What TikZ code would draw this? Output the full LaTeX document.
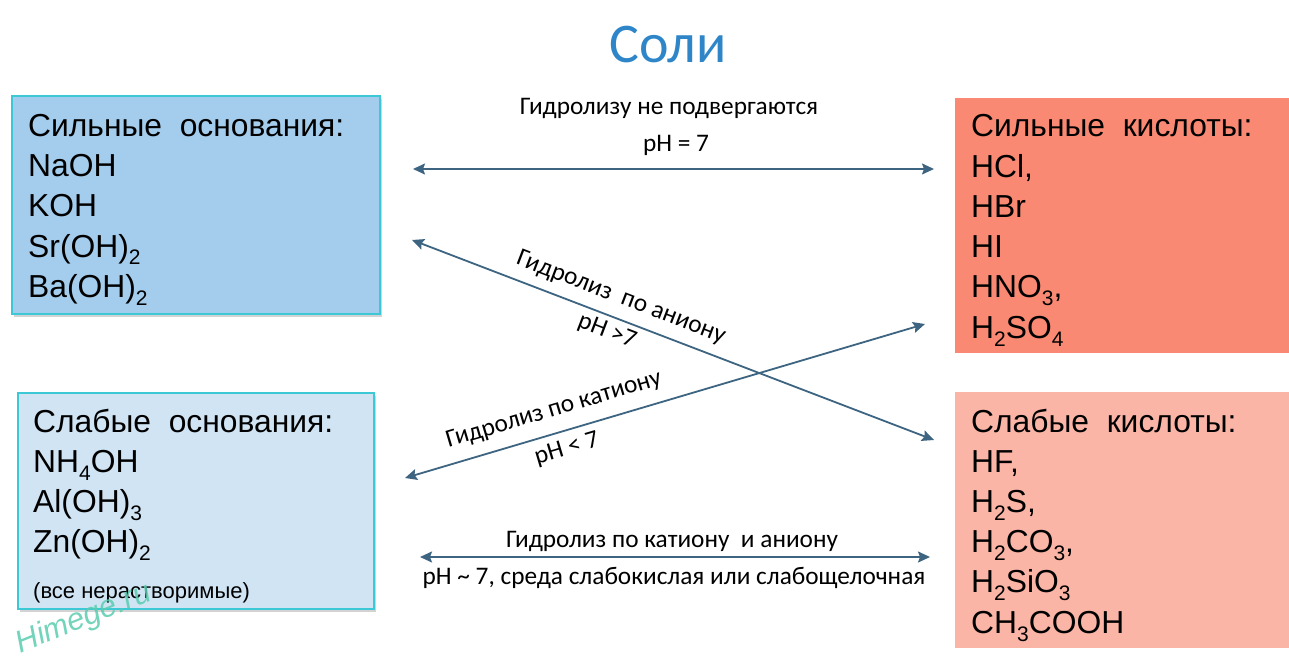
\documentclass[tikz,border=0pt]{standalone}
\usepackage{fontspec}
\setmainfont{Liberation Sans}
\newfontfamily\lblfont{Carlito}
\newfontfamily\wmfont{Liberation Sans}
\usetikzlibrary{arrows.meta,shadows}
\definecolor{titleblue}{RGB}{46,134,200}
\definecolor{sbfill}{RGB}{164,204,236}
\definecolor{wbfill}{RGB}{208,228,244}
\definecolor{safill}{RGB}{249,137,114}
\definecolor{wafill}{RGB}{251,181,167}
\definecolor{cyanedge}{RGB}{60,200,212}
\definecolor{arrowcol}{RGB}{61,100,128}
\definecolor{wmcol}{RGB}{90,205,175}
\newcommand\chsub[1]{\raisebox{-8pt}{\fontsize{21}{21}\selectfont #1}}
\begin{document}
\begin{tikzpicture}[x=1pt,y=-1pt,
  basebox/.style={draw=cyanedge, line width=1.8pt, anchor=north west, inner sep=0pt,
    drop shadow={shadow xshift=2pt, shadow yshift=-3pt, opacity=0.35}},
  acidbox/.style={anchor=north west, inner sep=0pt},
  boxtxt/.style={anchor=base west, inner sep=0pt, font=\fontsize{31.8}{36}\selectfont},
  lbl/.style={inner sep=0pt, font=\lblfont\fontsize{25.3}{28}\selectfont},
  harrow/.style={draw=arrowcol, line width=1.8pt, {Stealth[length=12pt,width=11pt,inset=2pt]}-{Stealth[length=12pt,width=11pt,inset=2pt]}}
]
\useasboundingbox (0,0) rectangle (1289,660);

% title
\node[anchor=base, inner sep=0pt, text=titleblue, font=\lblfont\fontsize{56}{60}\selectfont] (title) at (668,63) {Соли};

% boxes
\node[basebox, fill=sbfill, minimum width=368pt, minimum height=218pt] (sbase) at (11,95) {};
\node[basebox, fill=wbfill, minimum width=356pt, minimum height=216pt] (wbase) at (17,392) {};
\node[acidbox, fill=safill, minimum width=334pt, minimum height=255pt] (sacid) at (955,98) {};
\node[acidbox, fill=wafill, minimum width=334pt, minimum height=256pt] (wacid) at (955,392) {};

% strong bases
\foreach \t [count=\i] in {Сильные\ \ основания:, NaOH, KOH, Sr(OH)\chsub{2}, Ba(OH)\chsub{2}}
  \node[boxtxt] (sbt\i) at (28,137+40*\i-40) {\t};
% weak bases
\foreach \t [count=\i] in {Слабые\ \ основания:, NH\chsub{4}OH, Al(OH)\chsub{3}, Zn(OH)\chsub{2}}
  \node[boxtxt] (wbt\i) at (33,432+40*\i-40) {\t};
\node[anchor=base west, inner sep=0pt, font=\fontsize{22}{24}\selectfont] (wbnote) at (33,598) {(все нерастворимые)};
% strong acids
\foreach \t [count=\i] in {Сильные\ \ кислоты:, {HCl,}, HBr, HI, {HNO\chsub{3},}, H\chsub{2}SO\chsub{4}}
  \node[boxtxt] (sat\i) at (971,137+40.2*\i-40.2) {\t};
% weak acids
\foreach \t [count=\i] in {Слабые\ \ кислоты:, {HF,}, {H\chsub{2}S,}, {H\chsub{2}CO\chsub{3},}, H\chsub{2}SiO\chsub{3}, CH\chsub{3}COOH}
  \node[boxtxt] (wat\i) at (971,432+40.2*\i-40.2) {\t};

% arrow end points
\coordinate (a1l) at (413,169);
\coordinate (a1r) at (934,169);
\coordinate (a2l) at (412,240);
\coordinate (a2r) at (934,440);
\coordinate (a3l) at (405,478);
\coordinate (a3r) at (925,324);
\coordinate (a4l) at (420,557);
\coordinate (a4r) at (930,557);

\draw[harrow] (a1l) -- (a1r);
\draw[harrow] (a2l) -- (a2r);
\draw[harrow] (a3l) -- (a3r);
\draw[harrow] (a4l) -- (a4r);

% labels
\node[lbl] (l1a) at (669,108) {Гидролизу не подвергаются};
\node[lbl] (l1b) at (676,145) {pH = 7};
\node[lbl, rotate=-21] (l2a) at (621,298) {Гидролиз\ \ по аниону};
\node[lbl, rotate=-21] (l2b) at (607,332) {pH >7};
\node[lbl, rotate=16.5] (l3a) at (554,410) {Гидролиз по катиону};
\node[lbl, rotate=16.5] (l3b) at (567,449) {pH < 7};
\node[lbl] (l4a) at (672,541) {Гидролиз по катиону\ \ и аниону};
\node[lbl] (l4b) at (674,578) {pH \textasciitilde{} 7, среда слабокислая или слабощелочная};

% watermark
\node[inner sep=0pt, rotate=22, text=wmcol, opacity=0.85, font=\wmfont\itshape\fontsize{31}{34}\selectfont] (wm) at (84,619) {Himege.ru};
\end{tikzpicture}
\end{document}
